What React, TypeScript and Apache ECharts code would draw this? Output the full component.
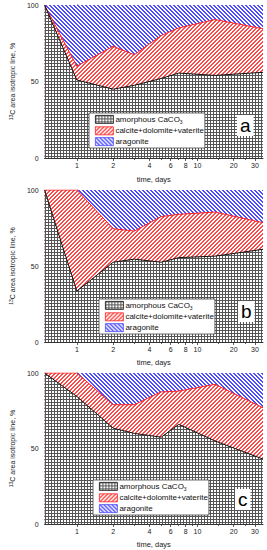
import React, { useEffect, useRef } from 'react';
import * as echarts from 'echarts';

// sampling times (days)
const days = [0.54, 1, 2, 3, 5, 7, 14, 35];

// panel a
const amorphousA = [100, 51, 45, 47.5, 52, 55.5, 54, 56];
const calciteA = [0, 9, 28, 20, 28, 29.5, 36.5, 28.5];
const aragoniteA = [0, 40, 27, 32.5, 20, 15, 9.5, 15.5];
// panel b
const amorphousB = [100, 33.5, 52.5, 54.5, 52.5, 55.5, 56.5, 61];
const calciteB = [0, 66.5, 22, 18.5, 30, 28.5, 29, 17.5];
const aragoniteB = [0, 0, 25.5, 27, 17.5, 16, 14.5, 21.5];
// panel c
const amorphousC = [100, 84.5, 63.5, 60, 57.5, 66, 55, 43];
const calciteC = [0, 15.5, 15.5, 19, 30, 22, 37.5, 34];
const aragoniteC = [0, 0, 21, 21, 12.5, 12, 7.5, 23];

const xLabelDays = [1, 2, 4, 6, 8, 10, 20, 30];
const xMinorDays = [3, 5, 7, 9, 15, 25];
const yMin = 0;
const yMax = 100;
const yInterval = 50;
const xMinDay = 0.54;
const xMaxDay = 35;

const panelLetters = ['a', 'b', 'c'];
const seriesNames = ['amorphous CaCO3', 'calcite+dolomite+vaterite', 'aragonite'];
const xTitle = 'time, days';
const yTitle = '{sup|13}C area isotropic line, %';

const FONT = '"Liberation Sans", Arial, sans-serif';

function makePattern(kind: string) {
  const c = document.createElement('canvas');
  const ctx = c.getContext('2d') as CanvasRenderingContext2D;
  if (kind === 'grid') {
    c.width = 3;
    c.height = 3;
    ctx.fillStyle = '#ffffff';
    ctx.fillRect(0, 0, 3, 3);
    ctx.fillStyle = '#555555';
    ctx.fillRect(0, 0, 3, 1);
    ctx.fillRect(0, 0, 1, 3);
  } else {
    const n = 4;
    c.width = n;
    c.height = n;
    ctx.fillStyle = '#ffffff';
    ctx.fillRect(0, 0, n, n);
    ctx.fillStyle = kind === 'red' ? '#ff4a4a' : '#4d4dff';
    for (let i = 0; i < n; i++) {
      const y = kind === 'red' ? n - 1 - i : i;
      ctx.fillRect(i, y, 1, 1);
      ctx.fillRect((i + 1) % n, y, 1, 1);
    }
  }
  return { image: c, repeat: 'repeat' };
}

export default function App() {
  const ref = useRef<HTMLDivElement>(null);
  useEffect(() => {
    if (!ref.current) return;
    const chart = echarts.init(ref.current, null, { renderer: 'svg' });
    const gridP = makePattern('grid');
    const redP = makePattern('red');
    const blueP = makePattern('blue');

    const panels = [
      { am: amorphousA, ca: calciteA, ar: aragoniteA },
      { am: amorphousB, ca: calciteB, ar: aragoniteB },
      { am: amorphousC, ca: calciteC, ar: aragoniteC },
    ];
    const grids = [
      { top: 5, height: 153 },
      { top: 190, height: 152 },
      { top: 373, height: 151 },
    ];
    const legendPos = [
      { left: 89, top: 113 },
      { left: 99, top: 299 },
      { left: 93, top: 480 },
    ];
    const letterPos = [
      { left: 237, top: 115 },
      { left: 238, top: 301 },
      { left: 235, top: 489 },
    ];
    const xNameGap = [17, 16, 16];

    const xMin = Math.log10(xMinDay);
    const xMax = Math.log10(xMaxDay);

    const grid: any[] = [];
    const xAxis: any[] = [];
    const yAxis: any[] = [];
    const series: any[] = [];
    const legend: any[] = [];
    const title: any[] = [];

    panels.forEach((p, k) => {
      grid.push({ left: 31, width: 232, top: grids[k].top, height: grids[k].height });
      xAxis.push({
        type: 'value',
        gridIndex: k,
        position: 'bottom',
        min: xMin,
        max: xMax,
        name: xTitle,
        nameLocation: 'middle',
        nameGap: xNameGap[k],
        nameTextStyle: { fontFamily: FONT, fontSize: 7.5, color: '#222' },
        axisLine: { show: true, lineStyle: { color: '#333', width: 1 } },
        axisTick: {
          show: true,
          length: 3,
          customValues: xLabelDays.map((d) => Math.log10(d)),
          lineStyle: { color: '#333', width: 0.8 },
        },
        axisLabel: {
          show: true,
          customValues: xLabelDays.map((d) => Math.log10(d)),
          formatter: (v: number) => String(Math.round(Math.pow(10, v))),
          fontFamily: FONT,
          fontSize: 7,
          color: '#222',
          margin: 4,
        },
        splitLine: { show: false },
      });
      xAxis.push({
        type: 'value',
        gridIndex: k,
        position: 'bottom',
        min: xMin,
        max: xMax,
        axisLine: { show: false },
        axisTick: {
          show: true,
          length: 2,
          customValues: xMinorDays.map((d) => Math.log10(d)),
          lineStyle: { color: '#333', width: 0.8 },
        },
        axisLabel: { show: false },
        splitLine: { show: false },
      });
      yAxis.push({
        type: 'value',
        gridIndex: k,
        min: yMin,
        max: yMax,
        interval: yInterval,
        name: yTitle,
        nameLocation: 'middle',
        nameGap: 21,
        nameTextStyle: {
          fontFamily: FONT,
          fontSize: 7,
          color: '#222',
          rich: {
            sup: { fontFamily: FONT, fontSize: 5, color: '#222', verticalAlign: 'top', lineHeight: 9 },
          },
        },
        axisLine: { show: true, lineStyle: { color: '#333', width: 1 } },
        axisTick: { show: true, length: 4, lineStyle: { color: '#333', width: 0.8 } },
        minorTick: { show: true, splitNumber: 2, length: 2, lineStyle: { color: '#333', width: 0.8 } },
        axisLabel: { fontFamily: FONT, fontSize: 7, color: '#222', margin: 6 },
        splitLine: { show: false },
      });

      const xs = days.map((d) => Math.log10(d));
      const top = xs.map((x, i) => [x, p.am[i] + p.ca[i] + p.ar[i]]);
      const mid = xs.map((x, i) => [x, p.am[i] + p.ca[i]]);
      const bot = xs.map((x, i) => [x, p.am[i]]);

      series.push({
        type: 'line',
        name: seriesNames[2],
        xAxisIndex: k * 2,
        yAxisIndex: k,
        data: top,
        showSymbol: false,
        symbol: 'none',
        z: 1,
        lineStyle: { width: 0, color: '#4d4dff' },
        itemStyle: { color: '#4d4dff' },
        areaStyle: { color: blueP, opacity: 1 },
      });
      series.push({
        type: 'line',
        name: seriesNames[1],
        xAxisIndex: k * 2,
        yAxisIndex: k,
        data: mid,
        showSymbol: false,
        symbol: 'none',
        z: 2,
        lineStyle: { width: 1, color: '#ff2020' },
        itemStyle: { color: '#ff2020' },
        areaStyle: { color: redP, opacity: 1 },
      });
      series.push({
        type: 'line',
        name: seriesNames[0],
        xAxisIndex: k * 2,
        yAxisIndex: k,
        data: bot,
        showSymbol: false,
        symbol: 'none',
        z: 3,
        lineStyle: { width: 1, color: '#111' },
        itemStyle: { color: '#111' },
        areaStyle: { color: gridP, opacity: 1 },
      });

      legend.push({
        left: legendPos[k].left,
        top: legendPos[k].top,
        orient: 'vertical',
        icon: 'rect',
        itemWidth: 18,
        itemHeight: 8,
        itemGap: 2,
        padding: [2, 1, 2, 6],
        backgroundColor: '#fff',
        borderColor: '#444',
        borderWidth: 0.8,
        selectedMode: false,
        data: [
          { name: seriesNames[0], itemStyle: { color: gridP, borderColor: '#111', borderWidth: 0.8 } },
          { name: seriesNames[1], itemStyle: { color: redP, borderColor: '#ff2020', borderWidth: 0.8 } },
          { name: seriesNames[2], itemStyle: { color: blueP, borderColor: '#4d4dff', borderWidth: 0.8 } },
        ],
        formatter: (name: string) => (name === seriesNames[0] ? 'amorphous CaCO{sub|3}' : name),
        textStyle: {
          fontFamily: FONT,
          fontSize: 8,
          color: '#111',
          padding: [0, 0, 0, -3],
          rich: {
            sub: { fontFamily: FONT, fontSize: 5, color: '#111', verticalAlign: 'bottom', lineHeight: 10 },
          },
        },
      });

      title.push({
        text: panelLetters[k],
        left: letterPos[k].left,
        top: letterPos[k].top,
        backgroundColor: '#fff',
        padding: [0, 3, 1, 3],
        textStyle: { fontFamily: FONT, fontSize: 19, fontWeight: 'normal', color: '#000', lineHeight: 20 },
      });
    });

    chart.setOption({
      animation: false,
      backgroundColor: '#fff',
      title,
      grid,
      xAxis,
      yAxis,
      legend,
      series,
    });
    return () => chart.dispose();
  }, []);
  return (
    <div
      ref={ref}
      style={{ position: 'absolute', left: 0, top: 0, width: 267, height: 550 }}
    />
  );
}
